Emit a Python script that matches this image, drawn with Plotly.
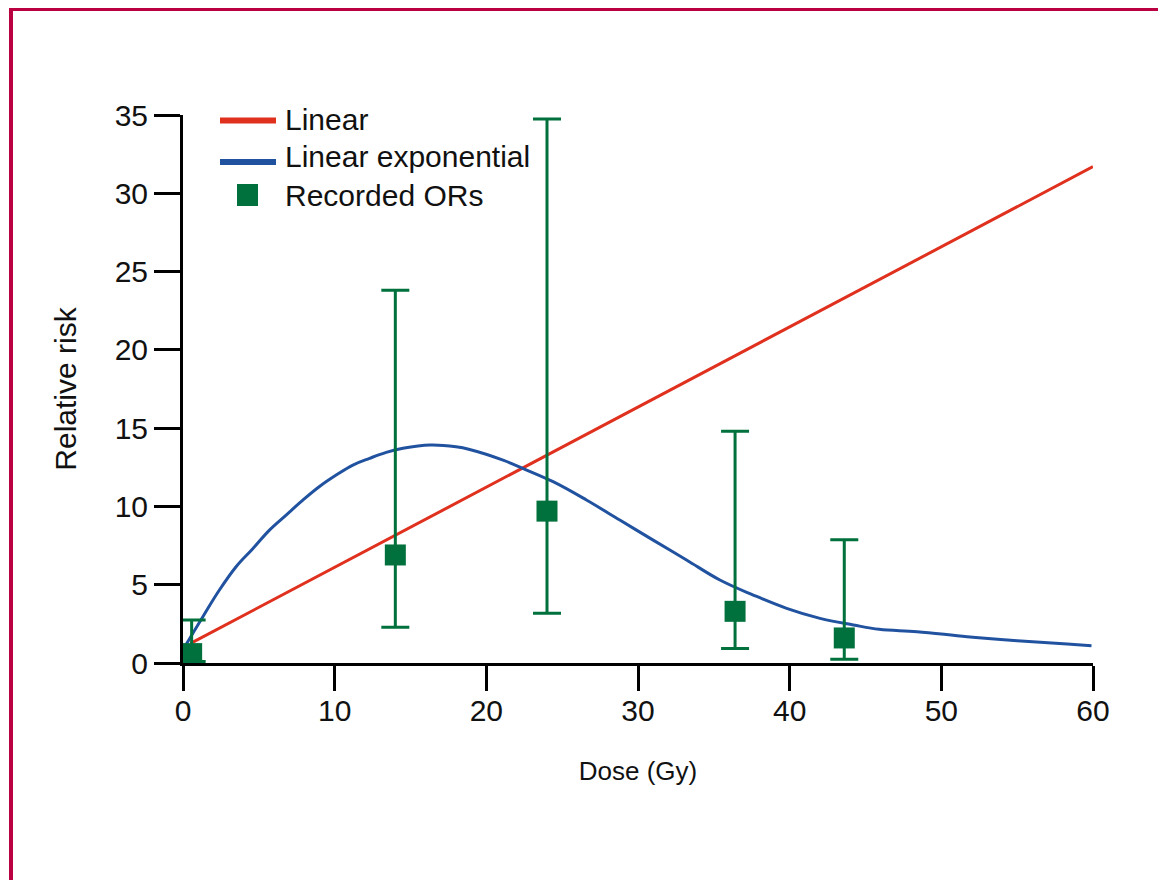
import plotly.graph_objects as go

# ---- data ----
linear_dose = [0.5, 60.0]
linear_rr = [1.25, 31.7]

linexp_dose = [0.0, 1.3, 2.4, 3.5, 4.6, 5.7, 6.8, 7.9, 9.0, 10.1, 11.2, 12.3, 13.4,
               14.5, 16.3, 18.0, 18.9, 21.1, 22.4, 24.4, 26.6, 28.8, 31.0, 33.2,
               35.4, 37.6, 39.8, 42.0, 44.2, 45.9, 48.4, 51.7, 55.0, 58.3, 59.9]
linexp_rr = [0.85, 2.94, 4.66, 6.15, 7.3, 8.49, 9.45, 10.4, 11.27, 12.0, 12.64, 13.07, 13.45,
             13.71, 13.92, 13.81, 13.64, 12.96, 12.43, 11.58, 10.41, 9.13, 7.85, 6.58,
             5.30, 4.34, 3.49, 2.85, 2.43, 2.15, 2.0, 1.68, 1.42, 1.21, 1.1]

or_dose = [0.57, 14.0, 24.0, 36.4, 43.6]
or_value = [0.6, 6.9, 9.7, 3.3, 1.6]
or_upper = [2.75, 23.8, 34.75, 14.8, 7.87]
or_lower = [0.1, 2.28, 3.17, 0.92, 0.24]

x_ticks = [0, 10, 20, 30, 40, 50, 60]
y_ticks = [0, 5, 10, 15, 20, 25, 30, 35]

legend_labels = ["Linear", "Linear exponential", "Recorded ORs"]

# ---- style ----
RED = "#E0301E"
BLUE = "#2152A0"
GREEN = "#00703C"
BORDER = "#BA0040"
FONT = "Liberation Sans, Arial, sans-serif"
TXT = "#111111"

W, H = 1158, 880
ML, MR, MT, MB = 183, 65, 115, 217
PW, PH = W - ML - MR, H - MT - MB


def px(xp):
    return (xp - ML) / PW


def py(yp):
    return (H - MB - yp) / PH


fig = go.Figure()

fig.add_trace(go.Scatter(x=linear_dose, y=linear_rr, mode="lines",
                         line=dict(color=RED, width=3), name=legend_labels[0],
                         showlegend=False))
fig.add_trace(go.Scatter(x=linexp_dose, y=linexp_rr, mode="lines",
                         line=dict(color=BLUE, width=3, shape="spline", smoothing=1.1),
                         name=legend_labels[1], showlegend=False))
fig.add_trace(go.Scatter(
    x=or_dose, y=or_value, mode="markers", name=legend_labels[2], showlegend=False,
    marker=dict(symbol="square", size=21, color=GREEN),
    error_y=dict(type="data", symmetric=False,
                 array=[u - v for u, v in zip(or_upper, or_value)],
                 arrayminus=[v - l for v, l in zip(or_value, or_lower)],
                 color=GREEN, thickness=3, width=14),
    cliponaxis=False,
))

shapes = [
    # frame border (top and left)
    dict(type="line", xref="paper", yref="paper", x0=px(9), x1=px(W + 5),
         y0=py(9.5), y1=py(9.5), line=dict(color=BORDER, width=3)),
    dict(type="line", xref="paper", yref="paper", x0=px(11), x1=px(11),
         y0=py(8), y1=py(H + 5), line=dict(color=BORDER, width=4)),
    # manual legend symbols
    dict(type="line", xref="paper", yref="paper", x0=px(220), x1=px(276),
         y0=py(120.5), y1=py(120.5), line=dict(color=RED, width=6)),
    dict(type="line", xref="paper", yref="paper", x0=px(220), x1=px(276),
         y0=py(162), y1=py(162), line=dict(color=BLUE, width=6)),
    dict(type="rect", xref="paper", yref="paper", x0=px(237), x1=px(258),
         y0=py(184), y1=py(206), line=dict(width=0), fillcolor=GREEN),
]

annotations = []
for lab, yc in zip(legend_labels, [119, 157, 195]):
    annotations.append(dict(text=lab, xref="paper", yref="paper", x=px(283), y=py(yc),
                            xanchor="left", yanchor="middle", showarrow=False,
                            font=dict(family=FONT, size=30, color=TXT)))

fig.update_layout(
    width=W, height=H,
    margin=dict(l=ML, r=MR, t=MT, b=MB),
    paper_bgcolor="white", plot_bgcolor="white",
    shapes=shapes, annotations=annotations,
    showlegend=False,
    font=dict(family=FONT, color=TXT),
)

fig.update_xaxes(
    range=[0, 60], tickvals=x_ticks, ticktext=[str(t) for t in x_ticks],
    showgrid=False, zeroline=False, showline=True, linecolor="black", linewidth=3,
    ticks="outside", ticklen=25, tickwidth=3, tickcolor="black",
    ticklabelstandoff=-6,
    tickfont=dict(family=FONT, size=30, color=TXT),
    title=dict(text="Dose (Gy)", font=dict(family=FONT, size=26, color=TXT), standoff=36),
)
fig.update_yaxes(
    range=[0, 35], tickvals=y_ticks, ticktext=[str(t) for t in y_ticks],
    showgrid=False, zeroline=False, showline=True, linecolor="black", linewidth=3,
    ticks="outside", ticklen=26, tickwidth=3, tickcolor="black",
    tickfont=dict(family=FONT, size=30, color=TXT),
    title=dict(text="Relative risk", font=dict(family=FONT, size=30, color=TXT), standoff=30),
)

fig.write_html("out.html", config={"displayModeBar": False},
               post_script="document.body.style.margin='0';")
